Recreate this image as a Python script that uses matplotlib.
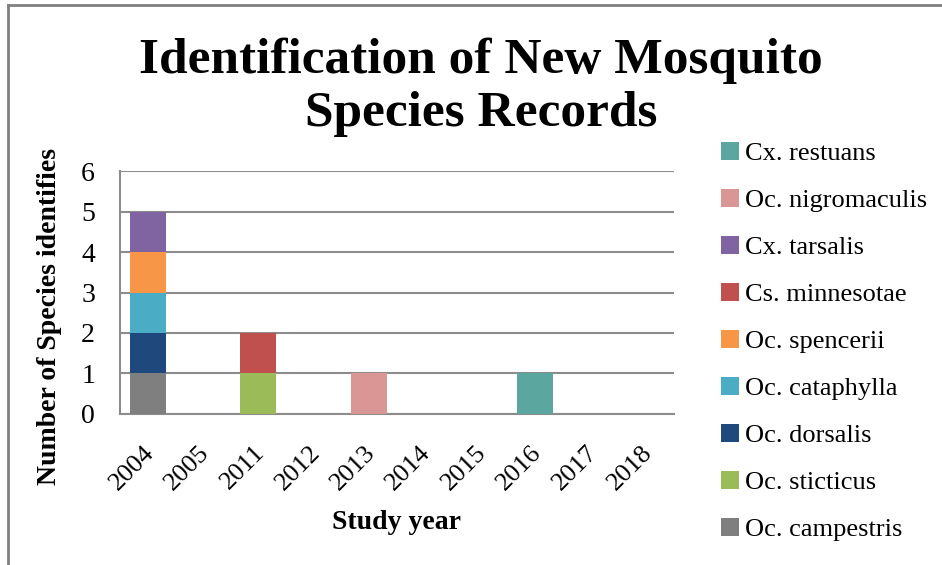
import matplotlib.pyplot as plt
import matplotlib.transforms as mtransforms
import numpy as np
from matplotlib.lines import Line2D

years = ['2004', '2005', '2011', '2012', '2013', '2014', '2015', '2016', '2017', '2018']

# series in stacking order (bottom first); the legend lists them reversed
species = ['Oc. campestris', 'Oc. sticticus', 'Oc. dorsalis', 'Oc. cataphylla',
           'Oc. spencerii', 'Cs. minnesotae', 'Cx. tarsalis', 'Oc. nigromaculis',
           'Cx. restuans']
campestris   = [1, 0, 0, 0, 0, 0, 0, 0, 0, 0]
sticticus    = [0, 0, 1, 0, 0, 0, 0, 0, 0, 0]
dorsalis     = [1, 0, 0, 0, 0, 0, 0, 0, 0, 0]
cataphylla   = [1, 0, 0, 0, 0, 0, 0, 0, 0, 0]
spencerii    = [1, 0, 0, 0, 0, 0, 0, 0, 0, 0]
minnesotae   = [0, 0, 1, 0, 0, 0, 0, 0, 0, 0]
tarsalis     = [1, 0, 0, 0, 0, 0, 0, 0, 0, 0]
nigromaculis = [0, 0, 0, 0, 1, 0, 0, 0, 0, 0]
restuans     = [0, 0, 0, 0, 0, 0, 0, 1, 0, 0]
counts = [campestris, sticticus, dorsalis, cataphylla, spencerii,
          minnesotae, tarsalis, nigromaculis, restuans]
colors = ['#7f7f7f', '#9bbb59', '#1f497d', '#4bacc6', '#f79646',
          '#c0504d', '#8064a2', '#d99694', '#5ca6a0']

plt.rcParams['font.family'] = ['Liberation Serif', 'DejaVu Serif']

fig = plt.figure(figsize=(9.42, 5.65), dpi=100)
ax = fig.add_axes([0.1274, 0.2673, 0.588, 0.430])

x = np.arange(len(years))
bottom = np.zeros(len(years))
bars = []
for name, vals, c in zip(species, counts, colors):
    vals = np.array(vals, dtype=float)
    b = ax.bar(x, vals, width=0.65, bottom=bottom, color=c, label=name, zorder=3)
    bars.append(b)
    bottom = bottom + vals

ax.set_xlim(-0.5, len(years) - 0.5)
ax.set_ylim(0, 6)
ax.set_yticks(range(0, 7))
ax.yaxis.grid(True, color='#8c8c8c', linewidth=1.5, zorder=0)
ax.set_axisbelow(True)
for s in ['top', 'right']:
    ax.spines[s].set_visible(False)
for s in ['left', 'bottom']:
    ax.spines[s].set_color('#8c8c8c')
    ax.spines[s].set_linewidth(1.5)
ax.tick_params(length=0, labelsize=20)
ax.tick_params(axis='y', pad=18)
ax.set_xticks(x)
ax.set_xticklabels(years, rotation=45, ha='right', rotation_mode='anchor', fontsize=19)
ax.tick_params(axis='x', pad=20)
# nudge the slanted year labels a little to the left
shift = mtransforms.ScaledTranslation(-0.05, 0, fig.dpi_scale_trans)
for lbl in ax.get_xticklabels():
    lbl.set_transform(lbl.get_transform() + shift)

ax.set_xlabel('Study year', fontsize=20, fontweight='bold', labelpad=11)
ax.set_ylabel('Number of Species identifies', fontsize=20, fontweight='bold')
ax.yaxis.set_label_coords(-0.104, 0.40)

fig.text(0.511, 0.846, 'Identification of New Mosquito\nSpecies Records',
         ha='center', va='center', fontsize=37, fontweight='bold', linespacing=1.2)

handles = [b[0] for b in bars][::-1]
labels = species[::-1]
fig.legend(handles, labels, loc='upper left', bbox_to_anchor=(0.751, 0.772),
           frameon=False, fontsize=19, handlelength=0.7, handleheight=0.7,
           handletextpad=0.22, labelspacing=0.89, borderpad=0)

# outer frame on the top and left edges
fig.add_artist(Line2D([0.0085, 0.0085], [0, 0.991], color='#808080', linewidth=2,
                      transform=fig.transFigure))
fig.add_artist(Line2D([0.0085, 1.0], [0.991, 0.991], color='#808080', linewidth=2,
                      transform=fig.transFigure))

fig.savefig('out.png', dpi=100)
